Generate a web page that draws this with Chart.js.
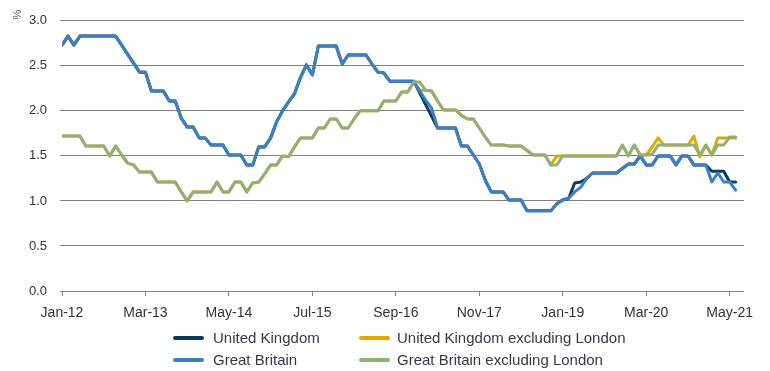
<!DOCTYPE html>
<html lang="en">
<head>
  <meta charset="UTF-8" />
  <title>Unemployment rate, UK and GB</title>
  <script src="https://cdn.jsdelivr.net/npm/chart.js"></script>
  <style>
    html, body { margin: 0; padding: 0; background: #fff; }
    .wrap { position: relative; width: 770px; height: 371px; }
    #rateChart { position: absolute; left: 0; top: 0; }
    .legend { font-family: "Liberation Sans", Arial, sans-serif; font-size: 15px; color: #3c3548; }
    .swatch { position: absolute; width: 31px; height: 4px; border-radius: 2px; }
    .label { position: absolute; white-space: nowrap; line-height: 18px; }
  </style>
</head>
<body>
  <div class="wrap">
    <canvas id="rateChart" width="770" height="371"></canvas>
    <div class="legend">
      <div class="swatch" style="left:173px; top:336px; background:#0b3a5f"></div>
      <div class="label" style="left:213px; top:329px">United Kingdom</div>
      <div class="swatch" style="left:359px; top:336px; background:#dfaa00"></div>
      <div class="label" style="left:397px; top:329px">United Kingdom excluding London</div>
      <div class="swatch" style="left:173px; top:358px; background:#3e7fc1"></div>
      <div class="label" style="left:213px; top:351px">Great Britain</div>
      <div class="swatch" style="left:359px; top:358px; background:#91ae7b"></div>
      <div class="label" style="left:397px; top:351px">Great Britain excluding London</div>
    </div>
  </div>
  <script>
    const months = [
      'Jan-12','Feb-12','Mar-12','Apr-12','May-12','Jun-12','Jul-12','Aug-12','Sep-12','Oct-12','Nov-12','Dec-12',
      'Jan-13','Feb-13','Mar-13','Apr-13','May-13','Jun-13','Jul-13','Aug-13','Sep-13','Oct-13','Nov-13','Dec-13',
      'Jan-14','Feb-14','Mar-14','Apr-14','May-14','Jun-14','Jul-14','Aug-14','Sep-14','Oct-14','Nov-14','Dec-14',
      'Jan-15','Feb-15','Mar-15','Apr-15','May-15','Jun-15','Jul-15','Aug-15','Sep-15','Oct-15','Nov-15','Dec-15',
      'Jan-16','Feb-16','Mar-16','Apr-16','May-16','Jun-16','Jul-16','Aug-16','Sep-16','Oct-16','Nov-16','Dec-16',
      'Jan-17','Feb-17','Mar-17','Apr-17','May-17','Jun-17','Jul-17','Aug-17','Sep-17','Oct-17','Nov-17','Dec-17',
      'Jan-18','Feb-18','Mar-18','Apr-18','May-18','Jun-18','Jul-18','Aug-18','Sep-18','Oct-18','Nov-18','Dec-18',
      'Jan-19','Feb-19','Mar-19','Apr-19','May-19','Jun-19','Jul-19','Aug-19','Sep-19','Oct-19','Nov-19','Dec-19',
      'Jan-20','Feb-20','Mar-20','Apr-20','May-20','Jun-20','Jul-20','Aug-20','Sep-20','Oct-20','Nov-20','Dec-20',
      'Jan-21','Feb-21','Mar-21','Apr-21','May-21','Jun-21'
    ];

    // labels shown under the axis, one every 14 months
    const tickLabels = ['Jan-12','Mar-13','May-14','Jul-15','Sep-16','Nov-17','Jan-19','Mar-20','May-21'];
    const yTicks = [0, 0.5, 1.0, 1.5, 2.0, 2.5, 3.0];

    const ukValues = [
      2.73, 2.83, 2.73, 2.83, 2.83, 2.83, 2.83, 2.83, 2.83, 2.83, 2.73, 2.63,
      2.53, 2.43, 2.43, 2.22, 2.22, 2.22, 2.11, 2.11, 1.92, 1.82, 1.82, 1.70,
      1.70, 1.62, 1.62, 1.62, 1.51, 1.51, 1.51, 1.40, 1.40, 1.60, 1.60, 1.70,
      1.88, 2.00, 2.10, 2.19, 2.37, 2.51, 2.40, 2.72, 2.72, 2.72, 2.72, 2.52,
      2.62, 2.62, 2.62, 2.62, 2.52, 2.43, 2.42, 2.33, 2.33, 2.33, 2.33, 2.33,
      2.20, 2.07, 1.94, 1.81, 1.81, 1.81, 1.81, 1.61, 1.61, 1.51, 1.41, 1.23,
      1.10, 1.10, 1.10, 1.01, 1.01, 1.01, 0.89, 0.89, 0.89, 0.89, 0.89, 0.97,
      1.01, 1.03, 1.20, 1.21, 1.25, 1.31, 1.31, 1.31, 1.31, 1.31, 1.36, 1.41,
      1.41, 1.50, 1.40, 1.40, 1.50, 1.50, 1.50, 1.40, 1.50, 1.50, 1.40, 1.40,
      1.40, 1.33, 1.33, 1.33, 1.21, 1.21
    ];
    const ukExLondonValues = [
      1.72, 1.72, 1.72, 1.72, 1.61, 1.61, 1.61, 1.61, 1.50, 1.61, 1.51, 1.42,
      1.40, 1.32, 1.32, 1.32, 1.21, 1.21, 1.21, 1.21, 1.10, 1.00, 1.10, 1.10,
      1.10, 1.10, 1.21, 1.10, 1.10, 1.21, 1.21, 1.10, 1.20, 1.21, 1.30, 1.40,
      1.40, 1.50, 1.49, 1.60, 1.70, 1.70, 1.70, 1.81, 1.81, 1.91, 1.91, 1.81,
      1.81, 1.91, 2.00, 2.00, 2.00, 2.00, 2.11, 2.11, 2.11, 2.21, 2.21, 2.32,
      2.23, 2.23, 2.22, 2.11, 2.01, 2.01, 2.01, 1.95, 1.91, 1.91, 1.81, 1.71,
      1.62, 1.62, 1.62, 1.61, 1.61, 1.61, 1.56, 1.51, 1.51, 1.51, 1.40, 1.50,
      1.50, 1.50, 1.50, 1.50, 1.50, 1.50, 1.50, 1.50, 1.50, 1.50, 1.62, 1.50,
      1.62, 1.51, 1.51, 1.60, 1.70, 1.62, 1.62, 1.62, 1.62, 1.62, 1.72, 1.49,
      1.62, 1.51, 1.70, 1.70, 1.70, 1.70
    ];
    const gbValues = [
      2.73, 2.83, 2.73, 2.83, 2.83, 2.83, 2.83, 2.83, 2.83, 2.83, 2.73, 2.63,
      2.53, 2.43, 2.43, 2.22, 2.22, 2.22, 2.11, 2.11, 1.92, 1.82, 1.82, 1.70,
      1.70, 1.62, 1.62, 1.62, 1.51, 1.51, 1.51, 1.40, 1.40, 1.60, 1.60, 1.70,
      1.88, 2.00, 2.10, 2.19, 2.37, 2.51, 2.40, 2.72, 2.72, 2.72, 2.72, 2.52,
      2.62, 2.62, 2.62, 2.62, 2.52, 2.43, 2.42, 2.33, 2.33, 2.33, 2.33, 2.33,
      2.22, 2.12, 2.03, 1.81, 1.81, 1.81, 1.81, 1.61, 1.61, 1.51, 1.41, 1.23,
      1.10, 1.10, 1.10, 1.01, 1.01, 1.01, 0.89, 0.89, 0.89, 0.89, 0.89, 0.97,
      1.01, 1.03, 1.10, 1.15, 1.25, 1.31, 1.31, 1.31, 1.31, 1.31, 1.36, 1.41,
      1.41, 1.50, 1.40, 1.40, 1.50, 1.50, 1.50, 1.40, 1.50, 1.50, 1.40, 1.40,
      1.40, 1.21, 1.31, 1.21, 1.21, 1.12
    ];
    const gbExLondonValues = [
      1.72, 1.72, 1.72, 1.72, 1.61, 1.61, 1.61, 1.61, 1.50, 1.61, 1.51, 1.42,
      1.40, 1.32, 1.32, 1.32, 1.21, 1.21, 1.21, 1.21, 1.10, 1.00, 1.10, 1.10,
      1.10, 1.10, 1.21, 1.10, 1.10, 1.21, 1.21, 1.10, 1.20, 1.21, 1.30, 1.40,
      1.40, 1.50, 1.49, 1.60, 1.70, 1.70, 1.70, 1.81, 1.81, 1.91, 1.91, 1.81,
      1.81, 1.91, 2.00, 2.00, 2.00, 2.00, 2.11, 2.11, 2.11, 2.21, 2.21, 2.32,
      2.32, 2.23, 2.22, 2.11, 2.01, 2.01, 2.01, 1.95, 1.91, 1.91, 1.81, 1.71,
      1.62, 1.62, 1.62, 1.61, 1.61, 1.61, 1.56, 1.51, 1.51, 1.51, 1.40, 1.40,
      1.50, 1.50, 1.50, 1.50, 1.50, 1.50, 1.50, 1.50, 1.50, 1.50, 1.62, 1.50,
      1.62, 1.51, 1.51, 1.52, 1.62, 1.62, 1.62, 1.62, 1.62, 1.62, 1.62, 1.51,
      1.62, 1.51, 1.62, 1.62, 1.71, 1.71
    ];

    const toPoints = values => values.map((v, i) => ({ x: i, y: v }));

    function series(label, values, color, order) {
      return {
        label: label,
        data: toPoints(values),
        borderColor: color,
        backgroundColor: color,
        borderWidth: 3,
        pointRadius: 0,
        tension: 0,
        fill: false,
        borderJoinStyle: 'round',
        borderCapStyle: 'round',
        order: order
      };
    }

    // little rotated "%" unit in the top-left corner
    const unitLabel = {
      id: 'unitLabel',
      afterDraw(chart) {
        const ctx = chart.ctx;
        ctx.save();
        ctx.translate(18, 14.5);
        ctx.rotate(-Math.PI / 2);
        ctx.fillStyle = '#555';
        ctx.font = '11px "Liberation Sans", Arial, sans-serif';
        ctx.textAlign = 'center';
        ctx.textBaseline = 'middle';
        ctx.fillText('%', 0, 0);
        ctx.restore();
      }
    };

    const ctx = document.getElementById('rateChart').getContext('2d');
    new Chart(ctx, {
      type: 'line',
      data: {
        datasets: [
          series('United Kingdom', ukValues, '#0b3a5f', 4),
          series('United Kingdom excluding London', ukExLondonValues, '#dfaa00', 3),
          series('Great Britain', gbValues, '#3e7fc1', 2),
          series('Great Britain excluding London', gbExLondonValues, '#91ae7b', 1)
        ]
      },
      options: {
        responsive: false,
        animation: false,
        layout: { padding: { left: 0, right: 26, top: 14, bottom: 0 } },
        plugins: {
          legend: { display: false },
          tooltip: { enabled: false }
        },
        scales: {
          x: {
            type: 'linear',
            min: 0,
            max: 114.4,
            afterFit: scale => { scale.height = 80; },
            afterBuildTicks: scale => {
              scale.ticks = tickLabels.map(t => ({ value: months.indexOf(t) }));
            },
            ticks: {
              autoSkip: false,
              maxRotation: 0,
              padding: 9,
              color: '#333',
              font: { family: '"Liberation Sans", Arial, sans-serif', size: 14 },
              callback: value => months[value]
            },
            grid: { drawOnChartArea: false, drawTicks: true, tickLength: 5, color: '#808080' },
            border: { display: false }
          },
          y: {
            min: 0,
            max: 3,
            afterFit: scale => { scale.width = 62; },
            afterBuildTicks: scale => {
              scale.ticks = yTicks.map(v => ({ value: v }));
            },
            ticks: {
              padding: 13,
              color: '#333',
              font: { family: '"Liberation Sans", Arial, sans-serif', size: 13 },
              callback: value => value.toFixed(1)
            },
            grid: { color: '#808080', lineWidth: 1, drawTicks: true, tickLength: 2 },
            border: { display: false }
          }
        }
      },
      plugins: [unitLabel]
    });
  </script>
</body>
</html>
